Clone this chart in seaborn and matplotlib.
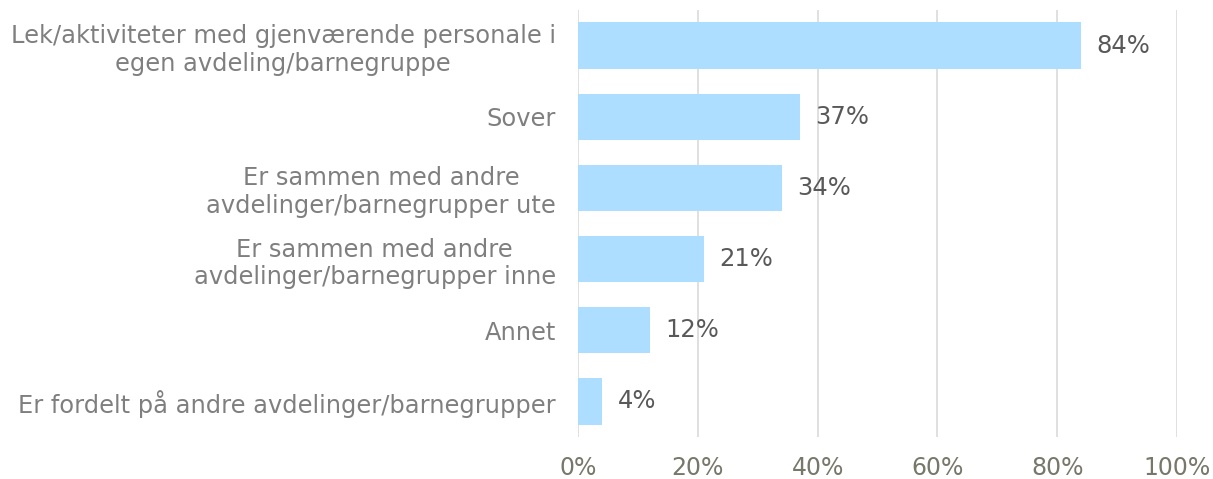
import matplotlib
matplotlib.use("Agg")
import matplotlib.pyplot as plt
import seaborn as sns
import pandas as pd

categories = [
    "Lek/aktiviteter med gjenværende personale i\negen avdeling/barnegruppe",
    "Sover",
    "Er sammen med andre\navdelinger/barnegrupper ute",
    "Er sammen med andre\navdelinger/barnegrupper inne",
    "Annet",
    "Er fordelt på andre avdelinger/barnegrupper",
]
values = [84, 37, 34, 21, 12, 4]
xticks = [0, 20, 40, 60, 80, 100]

df = pd.DataFrame({"cat": categories, "val": values})

sns.set_style("white")
plt.rcParams["font.family"] = ["DejaVu Sans"]

fig = plt.figure(figsize=(12.13, 4.79), dpi=100)
ax = fig.add_axes([578/1213, 1-437/479, (1177-578)/1213, (437-10)/479])

sns.barplot(data=df, y="cat", x="val", orient="h", color="#ADDDFF",
            saturation=1, width=0.65, ax=ax, zorder=2, linewidth=0)

ax.set_xlim(0, 100)
ax.set_ylim(5.5, -0.5)
ax.set_xticks(xticks)
ax.set_xticklabels([f"{t}%" for t in xticks], fontsize=17, color="#77776A")
ax.tick_params(axis="x", length=0, pad=14)
ax.tick_params(axis="y", length=0, pad=16)
for lab in ax.get_yticklabels():
    lab.set_fontsize(17.4)
    lab.set_color("#7F7F7F")
    lab.set_multialignment("center")
ax.set_xlabel("")
ax.set_ylabel("")
for s in ax.spines.values():
    s.set_visible(False)
ax.grid(axis="x", color="#DDDDDD", linewidth=1.3, zorder=0)
ax.set_axisbelow(True)

for i, v in enumerate(values):
    ax.text(v + 2.6, i, f"{v}%", va="center", ha="left", fontsize=17.5, color="#595959")

fig.savefig("out.png", dpi=100)
